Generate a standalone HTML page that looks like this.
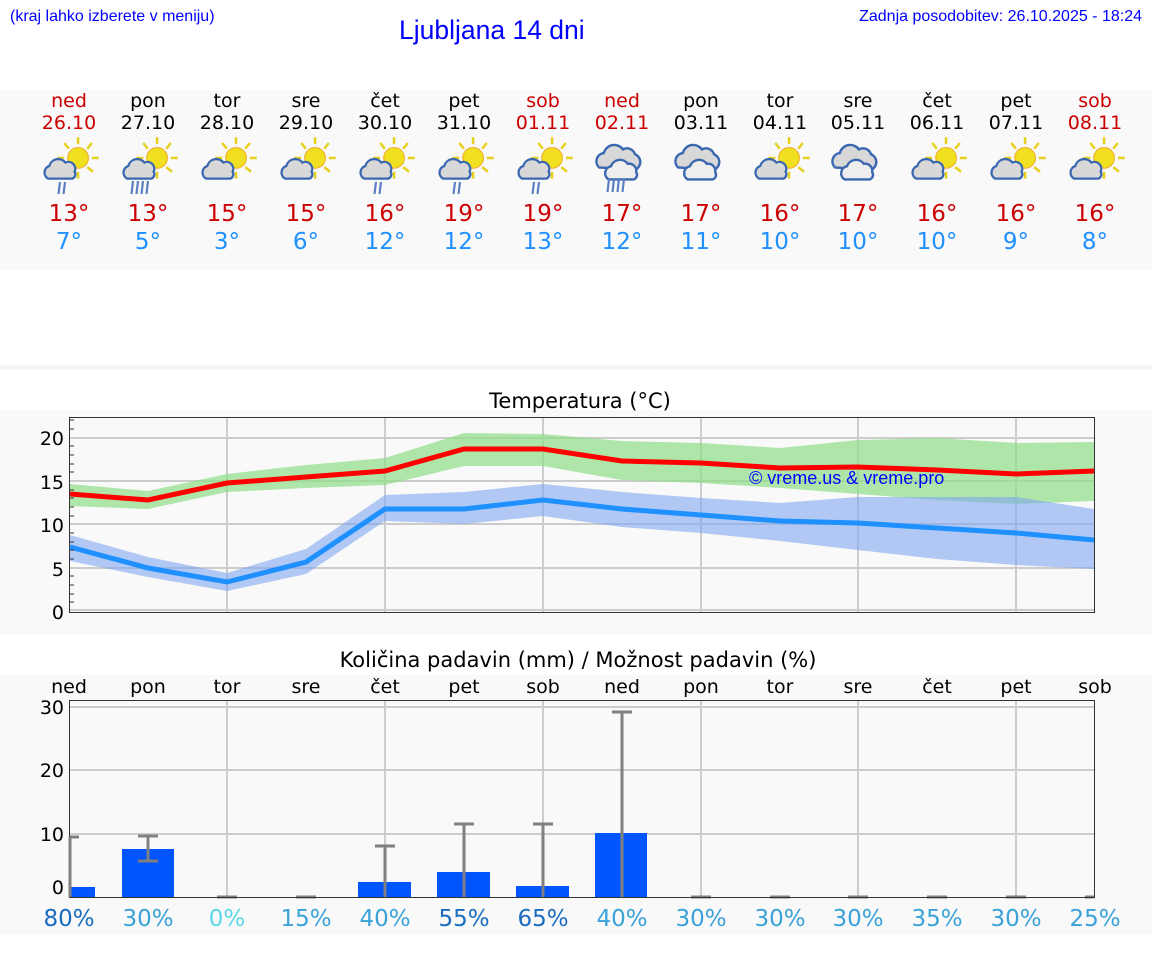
<!DOCTYPE html>
<html><head><meta charset="utf-8"><style>
body{margin:0;background:#fff;}
svg{display:block;font-family:"DejaVu Sans","Liberation Sans",sans-serif;}
</style></head><body>
<svg width="1152" height="975" viewBox="0 0 1152 975" xmlns="http://www.w3.org/2000/svg">
<defs>
<g id="sun"><g stroke="#e8d020" stroke-width="2.2"><line x1="0" y1="-18" x2="0" y2="-12"/><line x1="12" y1="-13" x2="8" y2="-8"/><line x1="18" y1="0" x2="12" y2="0"/><line x1="13" y1="12" x2="8" y2="8"/><line x1="0" y1="18" x2="0" y2="12"/><line x1="-12" y1="-13" x2="-8" y2="-8"/><line x1="-18" y1="0" x2="-12" y2="0"/></g><circle r="9" fill="#f0e020" stroke="#f0b030" stroke-width="1"/></g>
<g id="cl"><path d="M-13,8 a6,6 0 0 1 1,-11 a8,8 0 0 1 14,-3 a6,6 0 0 1 8,8 a4,4 0 0 1 -2,6 z" fill="#d8d8d8" stroke="#3a68b0" stroke-width="2"/></g>
<g id="i0"><use href="#sun" x="7" y="-7"/><use href="#cl" x="-6" y="3"/></g>
<g id="i1"><g transform="scale(1.15)"><use href="#i0"/></g></g>
<g id="c0"><path d="M-20,2 a7,7 0 0 1 4,-12 a9,9 0 0 1 16,-3 a7,7 0 0 1 10,4 a7,7 0 0 1 0,13 z" fill="#d8d8d8" stroke="#3a68b0" stroke-width="2"/><path d="M-12,12 a6,6 0 0 1 2,-11 a8,8 0 0 1 14,-2 a6,6 0 0 1 7,7 a4,4 0 0 1 -2,6 z" fill="#eee" stroke="#3a68b0" stroke-width="2"/></g>
<g id="cc"><g transform="scale(1.2)"><use href="#c0"/></g></g>
</defs>
<rect x="0" y="90" width="1152" height="180" fill="#f9f9f9"/>
<rect x="0" y="365" width="1152" height="5" fill="#f6f6f6"/>
<rect x="0" y="410" width="1152" height="225" fill="#f9f9f9"/>
<rect x="0" y="675" width="1152" height="260" fill="#f9f9f9"/>
<g font-family="Liberation Sans, sans-serif" fill="#0000ff">
<text x="10" y="21" font-size="16">(kraj lahko izberete v meniju)</text>
<text x="399" y="39" font-size="26.5">Ljubljana 14 dni</text>
<text x="1142" y="21" font-size="16" text-anchor="end">Zadnja posodobitev: 26.10.2025 - 18:24</text>
</g>
<g font-size="19" text-anchor="middle">
<g fill="#cc0000"><text x="69" y="107">ned</text><text x="69" y="129">26.10</text><text x="543" y="107">sob</text><text x="543" y="129">01.11</text><text x="622" y="107">ned</text><text x="622" y="129">02.11</text><text x="1095" y="107">sob</text><text x="1095" y="129">08.11</text></g>
<g fill="#000"><text x="148" y="107">pon</text><text x="148" y="129">27.10</text><text x="227" y="107">tor</text><text x="227" y="129">28.10</text><text x="306" y="107">sre</text><text x="306" y="129">29.10</text><text x="385" y="107">čet</text><text x="385" y="129">30.10</text><text x="464" y="107">pet</text><text x="464" y="129">31.10</text><text x="701" y="107">pon</text><text x="701" y="129">03.11</text><text x="780" y="107">tor</text><text x="780" y="129">04.11</text><text x="858" y="107">sre</text><text x="858" y="129">05.11</text><text x="937" y="107">čet</text><text x="937" y="129">06.11</text><text x="1016" y="107">pet</text><text x="1016" y="129">07.11</text></g>
</g>
<g>
<use href="#i1" x="70" y="166"/><use href="#i1" x="149" y="166"/><use href="#i1" x="228" y="166"/><use href="#i1" x="307" y="166"/><use href="#i1" x="386" y="166"/><use href="#i1" x="465" y="166"/><use href="#i1" x="544" y="166"/><use href="#cc" x="623" y="165"/><use href="#cc" x="702" y="165"/><use href="#i1" x="781" y="166"/><use href="#cc" x="859" y="165"/><use href="#i1" x="938" y="166"/><use href="#i1" x="1017" y="166"/><use href="#i1" x="1096" y="166"/>
<g stroke="#5a80c0" stroke-width="2.2"><path d="M60,182l-1.5,12M65,182l-1.5,12M133,181l-1.5,13M138,181l-1.5,13M143,181l-1.5,13M148,181l-1.5,13M376,182l-1.5,12M381,182l-1.5,12M455,182l-1.5,12M460,182l-1.5,12M534,182l-1.5,12M539,182l-1.5,12M609,179l-1.5,13M614,179l-1.5,13M619,179l-1.5,13M624,179l-1.5,13"/></g>
</g>
<g font-size="23" text-anchor="middle">
<g fill="#cc0000"><text x="69" y="221">13°</text><text x="148" y="221">13°</text><text x="227" y="221">15°</text><text x="306" y="221">15°</text><text x="385" y="221">16°</text><text x="464" y="221">19°</text><text x="543" y="221">19°</text><text x="622" y="221">17°</text><text x="701" y="221">17°</text><text x="780" y="221">16°</text><text x="858" y="221">17°</text><text x="937" y="221">16°</text><text x="1016" y="221">16°</text><text x="1095" y="221">16°</text></g>
<g fill="#1e90ff"><text x="69" y="249">7°</text><text x="148" y="249">5°</text><text x="227" y="249">3°</text><text x="306" y="249">6°</text><text x="385" y="249">12°</text><text x="464" y="249">12°</text><text x="543" y="249">13°</text><text x="622" y="249">12°</text><text x="701" y="249">11°</text><text x="780" y="249">10°</text><text x="858" y="249">10°</text><text x="937" y="249">10°</text><text x="1016" y="249">9°</text><text x="1095" y="249">8°</text></g>
</g>
<!-- Temperature -->
<text x="580" y="408" font-size="21" text-anchor="middle">Temperatura (°C)</text>
<rect x="69.5" y="417.5" width="1025" height="195" fill="#f9f9f9" stroke="#333"/>
<g stroke="#ccc" stroke-width="2"><line x1="70" y1="438" x2="1094" y2="438"/><line x1="70" y1="481" x2="1094" y2="481"/><line x1="70" y1="524" x2="1094" y2="524"/><line x1="70" y1="568" x2="1094" y2="568"/><line x1="70" y1="610" x2="1094" y2="610"/>
<line x1="227" y1="418" x2="227" y2="612"/><line x1="385" y1="418" x2="385" y2="612"/><line x1="543" y1="418" x2="543" y2="612"/><line x1="701" y1="418" x2="701" y2="612"/><line x1="858" y1="418" x2="858" y2="612"/><line x1="1016" y1="418" x2="1016" y2="612"/></g>
<polygon fill="#8ede88" opacity="0.7" points="70,484 148,491 227,474 306,465 385,458 464,433 543,434 622,441 701,443 780,448 858,440 937,438 1016,443 1094,442 1094,501 1016,504 937,500 858,494 780,488 701,483 622,480 543,466 464,466 385,485 306,488 227,492 148,509 70,506"/>
<polygon fill="#7fa6ee" opacity="0.6" points="70,535 148,557 227,573 306,549 385,495 464,492 543,484 622,492 701,498 780,503 858,497 937,497 1016,497 1094,509 1094,569 1016,565 937,559 858,550 780,541 701,533 622,527 543,516 464,524 385,521 306,574 227,591 148,577 70,561"/>
<polyline fill="none" stroke="#ff0000" stroke-width="5" points="70,494 148,500 227,483 306,477 385,471 464,449 543,449 622,461 701,463 780,468 858,467 937,470 1016,474 1094,471"/>
<polyline fill="none" stroke="#1e90ff" stroke-width="5" points="70,547 148,568 227,582 306,562 385,509 464,509 543,500 622,509 701,515 780,521 858,523 937,528 1016,533 1094,540"/>
<text x="749" y="484" font-size="18" fill="#0000ff" font-family="Liberation Sans, sans-serif">© vreme.us &amp; vreme.pro</text>
<g stroke="#333"><path d="M69,420h5M69,429h5M69,446h5M69,455h5M69,464h5M69,472h5M69,490h5M69,498h5M69,507h5M69,516h5M69,533h5M69,542h5M69,550h5M69,559h5M69,576h5M69,585h5M69,594h5M69,602h5"/></g>
<g font-size="19" text-anchor="end"><text x="64" y="445">20</text><text x="64" y="489">15</text><text x="64" y="532">10</text><text x="64" y="576">5</text><text x="64" y="619">0</text></g>
<!-- Precip -->
<text x="578" y="667" font-size="21" text-anchor="middle">Količina padavin (mm) / Možnost padavin (%)</text>
<g font-size="19" text-anchor="middle"><text x="69" y="693">ned</text><text x="148" y="693">pon</text><text x="227" y="693">tor</text><text x="306" y="693">sre</text><text x="385" y="693">čet</text><text x="464" y="693">pet</text><text x="543" y="693">sob</text><text x="622" y="693">ned</text><text x="701" y="693">pon</text><text x="780" y="693">tor</text><text x="858" y="693">sre</text><text x="937" y="693">čet</text><text x="1016" y="693">pet</text><text x="1095" y="693">sob</text></g>
<rect x="69.5" y="700.5" width="1025" height="197" fill="#f9f9f9" stroke="#333"/>
<g stroke="#ccc" stroke-width="2"><line x1="70" y1="707" x2="1094" y2="707"/><line x1="70" y1="770" x2="1094" y2="770"/><line x1="70" y1="834" x2="1094" y2="834"/>
<line x1="227" y1="701" x2="227" y2="897"/><line x1="385" y1="701" x2="385" y2="897"/><line x1="543" y1="701" x2="543" y2="897"/><line x1="701" y1="701" x2="701" y2="897"/><line x1="858" y1="701" x2="858" y2="897"/><line x1="1016" y1="701" x2="1016" y2="897"/></g>
<g fill="#0055ff"><rect x="70" y="887" width="25" height="10"/><rect x="122" y="849" width="52" height="48"/><rect x="358" y="882" width="53" height="15"/><rect x="437" y="872" width="53" height="25"/><rect x="516" y="886" width="53" height="11"/><rect x="595" y="833" width="52" height="64"/></g>
<g stroke="#808080" stroke-width="3" fill="none"><path d="M70,837v60M70,837h9M148,836v25M138,836h20M138,861h20M385,846v51M375,846h20M464,824v73M454,824h20M543,824v73M533,824h20M622,712v185M612,712h20M217,897h20M296,897h20M691,897h20M770,897h20M848,897h20M927,897h20M1006,897h20M1085,897h9"/></g>
<line x1="69" y1="897.5" x2="1095" y2="897.5" stroke="#333"/>
<g font-size="19" text-anchor="end"><text x="64" y="714">30</text><text x="64" y="777">20</text><text x="64" y="841">10</text><text x="64" y="894">0</text></g>
<g font-size="23" text-anchor="middle"><text x="69" y="926" fill="#1a6cc0">80%</text><text x="148" y="926" fill="#3aa2d8">30%</text><text x="227" y="926" fill="#5ad8e8">0%</text><text x="306" y="926" fill="#3aa2d8">15%</text><text x="385" y="926" fill="#3aa2d8">40%</text><text x="464" y="926" fill="#1a6cc0">55%</text><text x="543" y="926" fill="#1a6cc0">65%</text><text x="622" y="926" fill="#3aa2d8">40%</text><text x="701" y="926" fill="#3aa2d8">30%</text><text x="780" y="926" fill="#3aa2d8">30%</text><text x="858" y="926" fill="#3aa2d8">30%</text><text x="937" y="926" fill="#3aa2d8">35%</text><text x="1016" y="926" fill="#3aa2d8">30%</text><text x="1095" y="926" fill="#3aa2d8">25%</text></g>
</svg>
</body></html>
